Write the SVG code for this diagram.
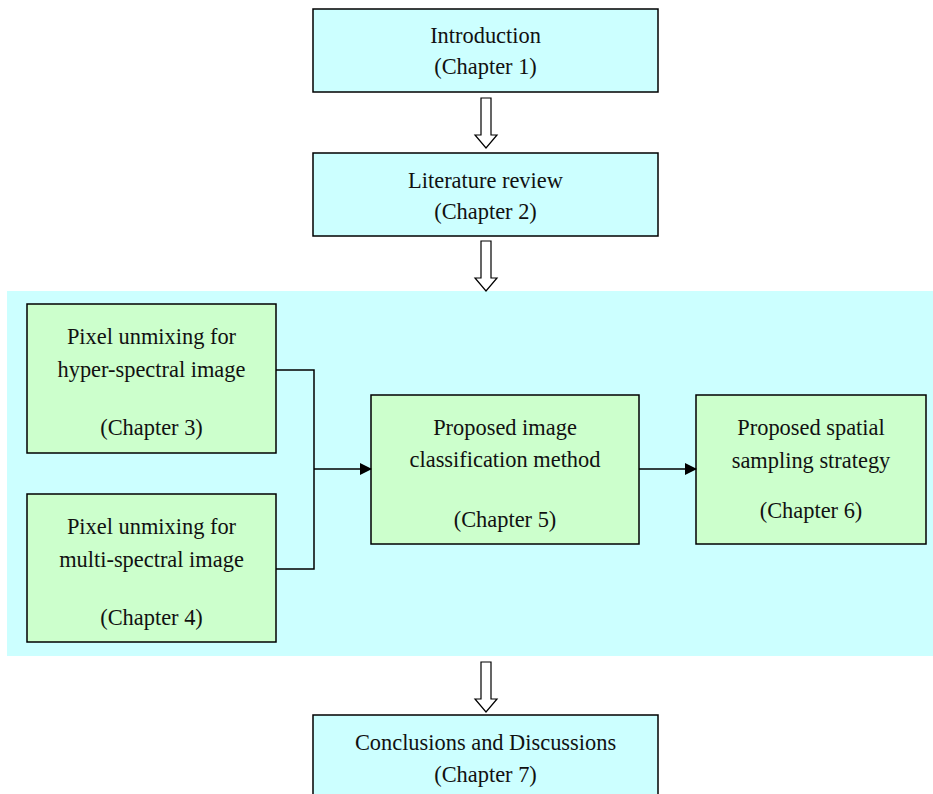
<svg xmlns="http://www.w3.org/2000/svg" width="933" height="794" viewBox="0 0 933 794">
<style>
.c{fill:#CCFFFF;stroke:#000;stroke-width:1.5}
.g{fill:#CCFFCC;stroke:#000;stroke-width:1.5}
.t{font-family:"Liberation Serif","Times New Roman",serif;font-size:22.4px;fill:#111;text-anchor:middle}
.ln{fill:none;stroke:#000;stroke-width:1.5}
.ba{fill:#fff;stroke:#000;stroke-width:1.2}
</style>
<defs>
<marker id="ah" markerWidth="12" markerHeight="12" refX="11" refY="6" orient="auto" markerUnits="userSpaceOnUse" viewBox="0 0 12 12">
<path d="M0,0 L12,6 L0,12 z" fill="#000"/>
</marker>
</defs>
<rect id="panel" x="7" y="291" width="926" height="365" fill="#CCFFFF"/>
<g id="n1"><rect class="c" x="313" y="9" width="345" height="83"/>
<text class="t" x="485.5" y="43">Introduction</text><text class="t" x="485.5" y="74">(Chapter 1)</text></g>
<g id="n2"><rect class="c" x="313" y="153" width="345" height="83"/>
<text class="t" x="485.5" y="188">Literature review</text><text class="t" x="485.5" y="219">(Chapter 2)</text></g>
<g id="n3"><rect class="g" x="27" y="304" width="249" height="149"/>
<text class="t" x="151.5" y="344">Pixel unmixing for</text><text class="t" x="151.5" y="377">hyper-spectral image</text><text class="t" x="151.5" y="435">(Chapter 3)</text></g>
<g id="n4"><rect class="g" x="27" y="494" width="249" height="148"/>
<text class="t" x="151.5" y="534">Pixel unmixing for</text><text class="t" x="151.5" y="567">multi-spectral image</text><text class="t" x="151.5" y="625">(Chapter 4)</text></g>
<g id="n5"><rect class="g" x="371" y="395" width="268" height="149"/>
<text class="t" x="505" y="435">Proposed image</text><text class="t" x="505" y="467">classification method</text><text class="t" x="505" y="527">(Chapter 5)</text></g>
<g id="n6"><rect class="g" x="696" y="395" width="230" height="149"/>
<text class="t" x="811" y="435">Proposed spatial</text><text class="t" x="811" y="468">sampling strategy</text><text class="t" x="811" y="518">(Chapter 6)</text></g>
<g id="n7"><rect class="c" x="313" y="715" width="345" height="90"/>
<text class="t" x="485.5" y="750">Conclusions and Discussions</text><text class="t" x="485.5" y="782">(Chapter 7)</text></g>
<g id="connectors">
<path class="ba" d="M481,98 H491 V135 H497 L486,148 L475,135 H481 Z"/>
<path class="ba" d="M481,241 H491 V278 H497 L486,291 L475,278 H481 Z"/>
<path class="ba" d="M481,662 H491 V699 H497 L486,712 L475,699 H481 Z"/>
<path class="ln" d="M276,370 H314 V569 H276"/>
<path class="ln" d="M314,469 H371" marker-end="url(#ah)"/>
<path class="ln" d="M639,469 H696" marker-end="url(#ah)"/>
</g>
</svg>
